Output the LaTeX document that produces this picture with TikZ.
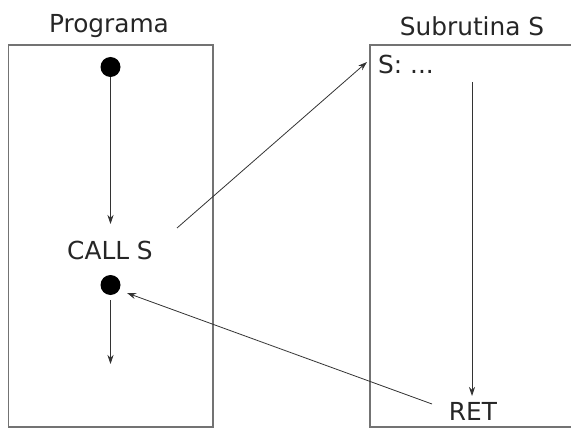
\documentclass[tikz,border=0pt]{standalone}
\usepackage{fontspec}
\setmainfont{DejaVu Sans}
\usetikzlibrary{arrows.meta}
\begin{document}
\begin{tikzpicture}[x=1pt,y=-1pt,
  boxline/.style={draw=black!55,line width=1.1pt},
  conn/.style={draw=black!80,line width=0.8pt,-{Stealth[length=9pt,width=6pt]}},
  dot/.style={circle,fill=black,inner sep=0pt,minimum size=20pt},
  lbl/.style={font=\fontsize{24.8}{28}\selectfont,text=black!85,inner sep=0pt}]
\useasboundingbox (0,0) rectangle (571,428);
% boxes
\draw[boxline] (8.5,427) rectangle (213,45);
\draw[boxline] (370,427) rectangle (590,45);
% titles
\node[lbl] (tprog) at (109,26.5) {Programa};
\node[lbl] (tsub) at (472,26.5) {Subrutina S};
% left column
\node[dot] (d1) at (110.5,67) {};
\node[lbl] (call) at (110,250) {CALL S};
\node[dot] (d2) at (110.5,285) {};
\coordinate (a1) at (110.5,224);
\coordinate (a2) at (110.5,364);
\coordinate (cs) at (177,228);
\draw[conn] (d1) -- (a1);
\draw[conn] (d2.south) ++(0,5) coordinate (d2b) -- (a2);
% right column
\node[lbl,anchor=west] (s) at (378,64) {S: ...};
\node[lbl] (ret) at (473,411) {RET};
\coordinate (rtop) at (472,82);
\coordinate (rtip) at (472,396);
\draw[conn] (rtop) -- (rtip);
\coordinate (sin) at (367,62);
\draw[conn] (cs) -- (sin);
\coordinate (rs) at (432,404);
\coordinate (dtip) at (127,293);
\draw[conn] (rs) -- (dtip);
\end{tikzpicture}
\end{document}
